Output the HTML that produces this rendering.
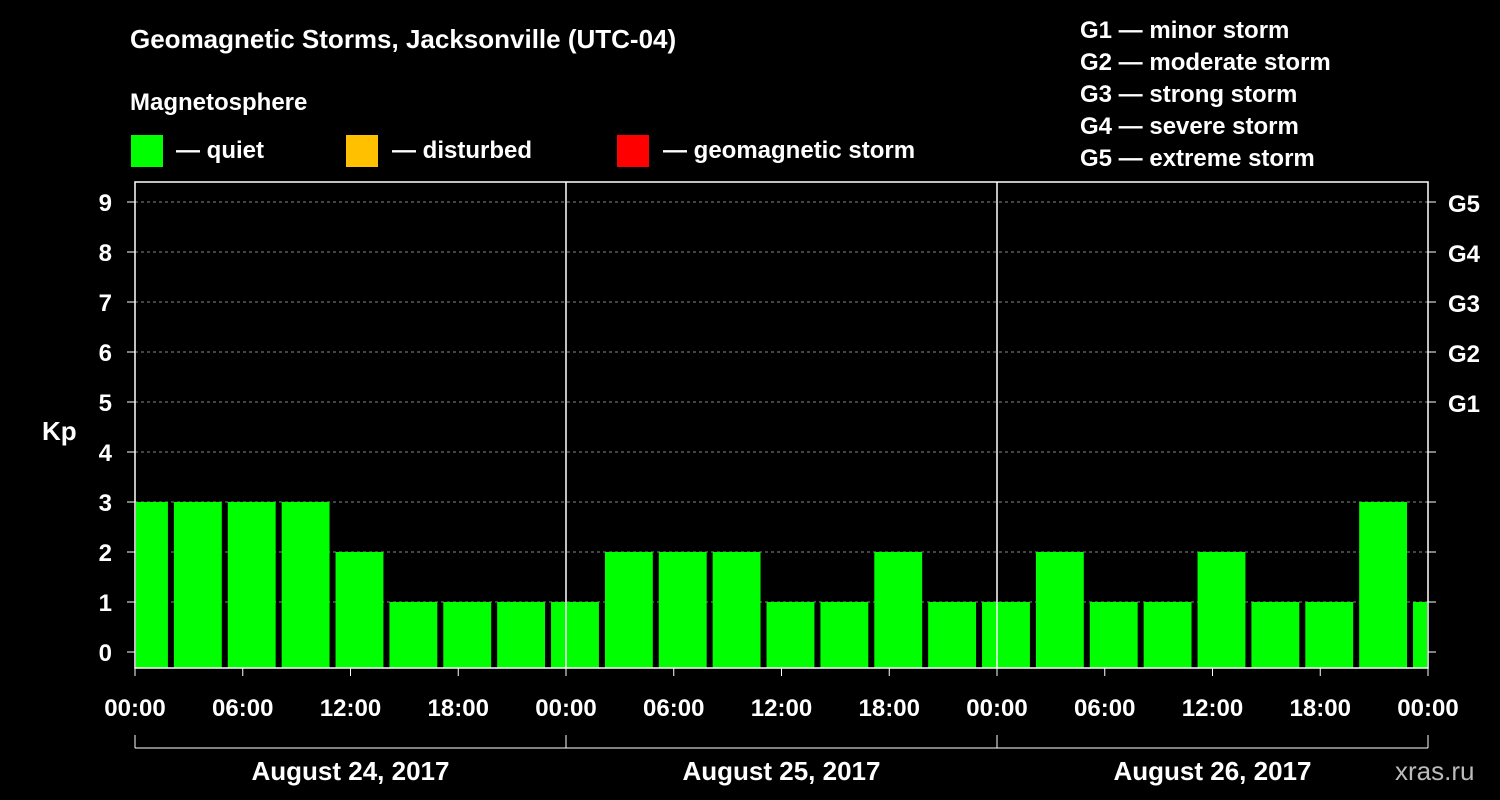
<!DOCTYPE html>
<html><head><meta charset="utf-8"><style>
body{margin:0;background:#000;}
svg{display:block;font-family:"Liberation Sans",sans-serif;font-weight:bold;}
</style></head><body>
<svg id="chart" width="1500" height="800" viewBox="0 0 1500 800">
<rect width="1500" height="800" fill="#000"/>
<text x="130" y="48" fill="#fff" font-size="26">Geomagnetic Storms, Jacksonville (UTC-04)</text>
<text x="130" y="110" fill="#fff" font-size="24">Magnetosphere</text>
<g>
<rect x="131" y="135" width="32" height="32" fill="#00ff00"/>
<text x="176" y="158" fill="#fff" font-size="24">— quiet</text>
<rect x="346" y="135" width="32" height="32" fill="#ffc000"/>
<text x="392" y="158" fill="#fff" font-size="24">— disturbed</text>
<rect x="617" y="135" width="32" height="32" fill="#ff0000"/>
<text x="663" y="158" fill="#fff" font-size="24">— geomagnetic storm</text>
</g>
<g fill="#fff" font-size="24">
<text x="1080" y="38">G1 — minor storm</text>
<text x="1080" y="70">G2 — moderate storm</text>
<text x="1080" y="102">G3 — strong storm</text>
<text x="1080" y="134">G4 — severe storm</text>
<text x="1080" y="166">G5 — extreme storm</text>
</g>
<g id="grid"></g>
<g id="bars"></g>
<g id="axes"></g>
<text x="42" y="440" fill="#fff" font-size="26">Kp</text>
<text x="1395" y="780" fill="#bbb" font-size="26" font-weight="normal">xras.ru</text>
</svg>
<script>
const kpValues=[3,3,3,3,2,1,1,1,1,2,2,2,1,1,2,1,1,2,1,1,2,1,1,3,1];
const binStartHour=-1;
const yTicks=[0,1,2,3,4,5,6,7,8,9];
const gLabels=["","","","","","G1","G2","G3","G4","G5"];
const xTickLabels=["00:00","06:00","12:00","18:00"];
const dayLabels=["August 24, 2017","August 25, 2017","August 26, 2017"];
const NS="http://www.w3.org/2000/svg";
const X0=135,X1=1428,YT=182,YB=668,HPX=(X1-X0)/72;
const x=h=>X0+h*HPX;
const y=k=>652-50*k;
function mk(tag,attrs,parent,txt){const e=document.createElementNS(NS,tag);for(const k in attrs)e.setAttribute(k,attrs[k]);if(txt!==undefined)e.textContent=txt;parent.appendChild(e);return e;}
const grid=document.getElementById('grid'),bars=document.getElementById('bars'),axes=document.getElementById('axes');
yTicks.forEach((t,i)=>{
 if(t>0){const l=mk('line',{x1:X0,x2:X1,y1:y(t),y2:y(t),stroke:'#888','stroke-dasharray':'3,3','stroke-width':1},grid);
 
 }
 const tl=mk('text',{x:112,y:y(t)+9,fill:'#fff','font-size':24,'text-anchor':'end'},axes,String(t));
 
 
 mk('line',{x1:X0-8,x2:X0,y1:y(t),y2:y(t),stroke:'#fff','stroke-width':1},axes);
 mk('line',{x1:X1,x2:X1+8,y1:y(t),y2:y(t),stroke:'#fff','stroke-width':1},axes);
 if(gLabels[i]){const g=mk('text',{x:1448,y:y(t)+10,fill:'#fff','font-size':24},axes,gLabels[i]);
 
 }
});
kpValues.forEach((v,i)=>{
 const h0=binStartHour+3*i;
 let a=x(h0)+3,b=x(h0+3)-3;
 a=Math.max(a,X0+1);b=Math.min(b,X1-1);
 const col=v>=5?'#ff0000':(v>=4?'#ffc000':'#00ff00');
 const r=mk('rect',{x:a,y:y(v),width:b-a,height:YB-y(v),fill:col},bars);
 
 
});
const frame=mk('rect',{x:X0,y:YT,width:X1-X0,height:YB-YT,fill:'none',stroke:'#fff','stroke-width':1.5},axes);


for(let d=1;d<3;d++)mk('line',{x1:x(24*d),x2:x(24*d),y1:YT,y2:YB,stroke:'#fff','stroke-width':1.5},axes);
for(let h=0;h<=72;h+=6){
 mk('line',{x1:x(h),x2:x(h),y1:YB,y2:YB+8,stroke:'#fff'},axes);
 const t=mk('text',{x:x(h),y:716,fill:'#fff','font-size':24,'text-anchor':'middle'},axes,xTickLabels[(h/6)%4]);
 
 
}
mk('line',{x1:X0,x2:X1,y1:748,y2:748,stroke:'#fff'},axes);
for(let d=0;d<=3;d++)mk('line',{x1:x(24*d),x2:x(24*d),y1:735,y2:748,stroke:'#fff'},axes);
dayLabels.forEach((s,d)=>{
 const t=mk('text',{x:x(24*d+12),y:780,fill:'#fff','font-size':26,'text-anchor':'middle'},axes,s);
 
 
});
</script>
</body></html>
